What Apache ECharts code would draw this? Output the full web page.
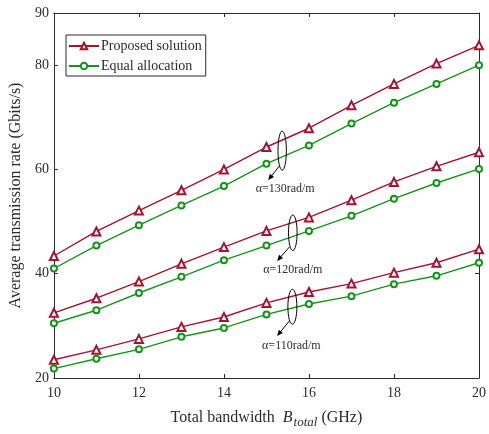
<!DOCTYPE html>
<html><head><meta charset="utf-8">
<script src="https://cdn.jsdelivr.net/npm/echarts@6/dist/echarts.min.js"></script>
<style>html,body{margin:0;padding:0;background:#fff}#c{width:489px;height:434px}</style>
</head><body><div id="c"></div>
<script>
const bandwidth = [10, 11, 12, 13, 14, 15, 16, 17, 18, 19, 20];
const proposed130 = [43.4, 48.1, 52.1, 56.0, 60.0, 64.3, 67.9, 72.3, 76.4, 80.3, 83.8];
const equal130    = [41.0, 45.4, 49.3, 53.1, 56.8, 61.1, 64.6, 68.8, 72.8, 76.4, 80.0];
const proposed120 = [32.5, 35.3, 38.5, 41.9, 45.1, 48.2, 50.8, 54.1, 57.6, 60.6, 63.3];
const equal120    = [30.5, 33.0, 36.3, 39.4, 42.6, 45.4, 48.2, 51.1, 54.4, 57.4, 60.1];
const proposed110 = [23.5, 25.4, 27.5, 29.8, 31.7, 34.4, 36.5, 38.1, 40.2, 42.1, 44.7];
const equal110    = [21.8, 23.7, 25.5, 27.9, 29.6, 32.2, 34.2, 35.7, 38.0, 39.6, 42.1];
const seriesNames = ['Proposed solution', 'Equal allocation'];
const annotationLabels = ['\u03b1=130rad/m', '\u03b1=120rad/m', '\u03b1=110rad/m'];
const annotationX = [15.37, 15.62, 15.61];
const annotationY = [63.6, 47.85, 33.66];

const FONT = '"Liberation Serif", "Times New Roman", serif';
const TXT = '#2b2b2b';
const RED = '#A2142F';
const GREEN = '#16941A';

const chart = echarts.init(document.getElementById('c'), null, {renderer: 'canvas'});

function toPts(arr) { return bandwidth.map((x, i) => [x, arr[i]]); }
function mk(name, arr, isProposed) {
  return {
    name: name, type: 'line', data: toPts(arr),
    xAxisIndex: 0, yAxisIndex: 0,
    symbol: isProposed ? 'emptyTriangle' : 'emptyCircle',
    symbolSize: isProposed ? 8 : 6,
    color: isProposed ? RED : GREEN,
    itemStyle: {color: isProposed ? RED : GREEN, borderWidth: 1.3},
    lineStyle: {width: 1.4, color: isProposed ? RED : GREEN},
    animation: false
  };
}
const axisCommon = {
  axisLine: {show: true, lineStyle: {color: TXT, width: 1}},
  axisTick: {show: true, inside: true, length: 4, lineStyle: {color: TXT}},
  splitLine: {show: false}
};

chart.setOption({
  animation: false,
  backgroundColor: '#fff',
  grid: {left: 49, right: 8, top: 13, bottom: 51, containLabel: false},
  legend: {
    orient: 'vertical', left: 66, top: 35,
    data: seriesNames,
    itemWidth: 30, itemHeight: 8, itemGap: 6,
    borderColor: TXT, borderWidth: 1, backgroundColor: '#fff',
    padding: [4, 4, 3, 2], borderRadius: 0,
    textStyle: {fontFamily: FONT, fontSize: 14, color: TXT, padding: [0, 0, 0, -3]}
  },
  xAxis: [
    Object.assign({
      type: 'value', min: 10, max: 20, interval: 2, position: 'bottom',
      axisLabel: {color: TXT, fontFamily: FONT, fontSize: 14, margin: 8},
      name: 'Total bandwidth  {i|B}{s|total} (GHz)',
      nameLocation: 'middle', nameGap: 28,
      nameTextStyle: {
        color: TXT, fontFamily: FONT, fontSize: 16,
        rich: {
          i: {fontFamily: FONT, fontSize: 16, fontStyle: 'italic', color: TXT},
          s: {fontFamily: FONT, fontSize: 13, fontStyle: 'italic', color: TXT, padding: [10, 0, 0, 1]}
        }
      }
    }, axisCommon),
    Object.assign({
      type: 'value', min: 10, max: 20, interval: 2, position: 'top',
      axisLabel: {show: false}
    }, axisCommon)
  ],
  yAxis: [
    Object.assign({
      type: 'value', min: 20, max: 90, interval: 20, position: 'left',
      axisLabel: {color: TXT, fontFamily: FONT, fontSize: 14, margin: 5},
      name: 'Average transmission rate (Gbits/s)',
      nameLocation: 'middle', nameGap: 24,
      nameTextStyle: {color: TXT, fontFamily: FONT, fontSize: 16}
    }, axisCommon),
    Object.assign({
      type: 'value', min: 20, max: 90, interval: 20, position: 'right',
      axisLabel: {show: false}
    }, axisCommon)
  ],
  series: [
    mk(seriesNames[0], proposed130, true),
    mk(seriesNames[1], equal130, false),
    mk(seriesNames[0], proposed120, true),
    mk(seriesNames[1], equal120, false),
    mk(seriesNames[0], proposed110, true),
    mk(seriesNames[1], equal110, false)
  ]
});

// annotation layout offsets (pixels, relative to ellipse centre)
const ellipseR = [[4.2, 19.5], [4.3, 17.8], [4.5, 17.5]];
const arrowFrom = [[-3, 15.5], [-3.4, 14.2], [-3, 14.2]];
const arrowTo = [[-14, 29.5], [-15.7, 28.2], [-15.3, 29.2]];
const textOff = [[3, 38.5], [0, 37], [-1, 39.2]];

const graphics = [];
annotationLabels.forEach((lab, k) => {
  const c = chart.convertToPixel({xAxisIndex: 0, yAxisIndex: 0}, [annotationX[k], annotationY[k]]);
  graphics.push({type: 'ellipse', shape: {cx: c[0], cy: c[1], rx: ellipseR[k][0], ry: ellipseR[k][1]},
    style: {fill: 'none', stroke: '#000', lineWidth: 1}, z: 100});
  const x1 = c[0] + arrowFrom[k][0], y1 = c[1] + arrowFrom[k][1];
  const x2 = c[0] + arrowTo[k][0], y2 = c[1] + arrowTo[k][1];
  const dx = x2 - x1, dy = y2 - y1, L = Math.hypot(dx, dy);
  const ux = dx / L, uy = dy / L, nx = -uy, ny = ux;
  const hl = 6, hw = 2.6;
  graphics.push({type: 'line', shape: {x1: x1, y1: y1, x2: x2 - ux * hl * 0.8, y2: y2 - uy * hl * 0.8},
    style: {stroke: '#000', lineWidth: 1}, z: 100});
  graphics.push({type: 'polygon', shape: {points: [[x2, y2],
      [x2 - ux * hl + nx * hw, y2 - uy * hl + ny * hw],
      [x2 - ux * hl - nx * hw, y2 - uy * hl - ny * hw]]},
    style: {fill: '#000', stroke: 'none'}, z: 100});
  graphics.push({type: 'text', x: c[0] + textOff[k][0], y: c[1] + textOff[k][1],
    style: {text: lab, fill: TXT, font: '12px ' + FONT, textAlign: 'center', textVerticalAlign: 'middle'}, z: 100});
});
chart.setOption({graphic: graphics});
</script>
</body></html>
